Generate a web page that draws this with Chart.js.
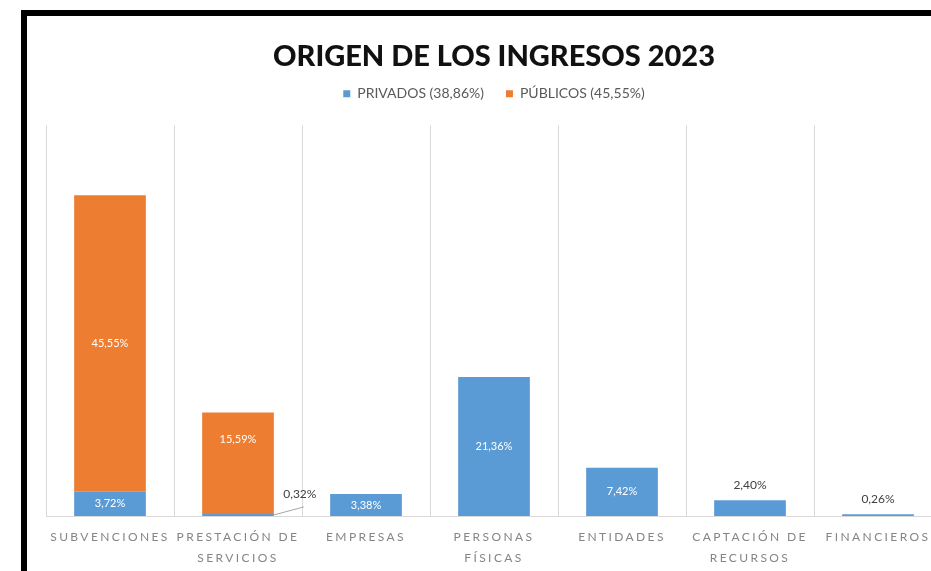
<!DOCTYPE html>
<html>
<head>
<meta charset="utf-8">
<script src="https://cdn.jsdelivr.net/npm/chart.js@4/dist/chart.umd.min.js"></script>
<style>
  html, body { margin: 0; padding: 0; background: #fff; overflow: hidden; width: 931px; height: 571px; }
  #frame { position: absolute; left: 21px; top: 10px; border-left: 6px solid #000; border-top: 6px solid #000; width: 960px; height: 600px; background: #fff; }
  #c { position: absolute; left: 0; top: 0; }
</style>
</head>
<body>
<div id="frame"><canvas id="c" width="934" height="564"></canvas></div>
<script>
// ---- data ----
const categories = [
  'SUBVENCIONES',
  ['PRESTACIÓN DE', 'SERVICIOS'],
  'EMPRESAS',
  ['PERSONAS', 'FÍSICAS'],
  'ENTIDADES',
  ['CAPTACIÓN DE', 'RECURSOS'],
  'FINANCIEROS'
];
const seriesNames = ['PRIVADOS (38,86%)', 'PÚBLICOS (45,55%)'];
const privados = [3.72, 0.32, 3.38, 21.36, 7.42, 2.40, 0.26];
const publicos = [45.55, 15.59, 0, 0, 0, 0, 0];
const privadosLabelPos = ['center', 'callout', 'center', 'center', 'center', 'above', 'above'];
const publicosLabelPos = ['center', 'upper', 'none', 'none', 'none', 'none', 'none'];
const titleText = 'ORIGEN DE LOS INGRESOS 2023';
const yMax = 60;

const BLUE = '#5B9BD5';
const ORANGE = '#ED7D31';
const FONT = 'Lato, "Open Sans", sans-serif';

function fmt(v) { return v.toFixed(2).replace('.', ',') + '%'; }

const barLabels = {
  id: 'barLabels',
  afterDatasetsDraw(chart) {
    const ctx = chart.ctx;
    chart.data.datasets.forEach((ds, di) => {
      const meta = chart.getDatasetMeta(di);
      meta.data.forEach((bar, i) => {
        const v = ds.data[i];
        const pos = ds.labelPos[i];
        if (!v || pos === 'none') return;
        const p = bar.getProps(['x', 'y', 'base', 'width'], true);
        const txt = fmt(v);
        ctx.save();
        ctx.textAlign = 'center';
        ctx.textBaseline = 'middle';
        if (pos === 'center' || pos === 'upper') {
          ctx.font = '11px ' + FONT;
          ctx.fillStyle = '#ffffff';
          const ty = pos === 'center' ? (p.y + p.base) / 2 : p.y + 27;
          ctx.fillText(txt, p.x, ty);
        } else if (pos === 'above') {
          ctx.font = '12px ' + FONT;
          ctx.fillStyle = '#404040';
          ctx.fillText(txt, p.x, p.y - 15);
        } else if (pos === 'callout') {
          ctx.font = '12px ' + FONT;
          ctx.fillStyle = '#404040';
          const lx = p.x + p.width / 2 + 26;
          const ly = p.y - 20;
          ctx.strokeStyle = '#a6a6a6';
          ctx.lineWidth = 1;
          ctx.beginPath();
          ctx.moveTo(p.x + p.width / 2, (p.y + p.base) / 2);
          ctx.lineTo(lx + 4, ly + 13);
          ctx.stroke();
          ctx.fillText(txt, lx, ly);
        }
        ctx.restore();
      });
    });
  }
};

const spacedTicks = {
  id: 'spacedTicks',
  beforeDraw(chart) {
    const s = chart.scales.x;
    if (s && !s._spaced) {
      const orig = s.drawLabels.bind(s);
      s.drawLabels = function (area) {
        const ctx = chart.ctx;
        ctx.save();
        ctx.letterSpacing = '2.4px';
        orig(area);
        ctx.restore();
      };
      s._spaced = true;
    }
  }
};

new Chart(document.getElementById('c'), {
  type: 'bar',
  data: {
    labels: categories,
    datasets: [
      { label: seriesNames[0], data: privados, backgroundColor: BLUE, labelPos: privadosLabelPos },
      { label: seriesNames[1], data: publicos, backgroundColor: ORANGE, labelPos: publicosLabelPos }
    ]
  },
  options: {
    responsive: false,
    animation: false,
    devicePixelRatio: 1,
    layout: { padding: { left: 19, right: 19, top: 0, bottom: 0 } },
    datasets: { bar: { categoryPercentage: 1.0, barPercentage: 0.56 } },
    plugins: {
      title: {
        display: true,
        text: titleText,
        color: '#111111',
        font: { family: FONT, size: 29, weight: '900' },
        padding: { top: 23, bottom: -9 }
      },
      legend: {
        display: true,
        position: 'top',
        labels: {
          boxWidth: 7,
          boxHeight: 7,
          padding: 22,
          color: '#595959',
          font: { family: FONT, size: 14 }
        }
      },
      tooltip: { enabled: false }
    },
    scales: {
      x: {
        stacked: true,
        grid: { display: true, offset: true, color: '#d9d9d9', drawTicks: false },
        border: { display: true, color: '#d9d9d9' },
        ticks: {
          color: '#858585',
          font: { family: FONT, size: 12, lineHeight: 1.75 },
          padding: 11,
          maxRotation: 0,
          minRotation: 0,
          autoSkip: false
        }
      },
      topPad: {
        type: 'category',
        position: 'top',
        display: true,
        grid: { display: false },
        border: { display: false },
        ticks: { display: false },
        afterFit(s) { s.height = 14.5; }
      },
      y: {
        stacked: true,
        display: false,
        min: 0,
        max: yMax
      }
    }
  },
  plugins: [barLabels, spacedTicks]
});
</script>
</body>
</html>
